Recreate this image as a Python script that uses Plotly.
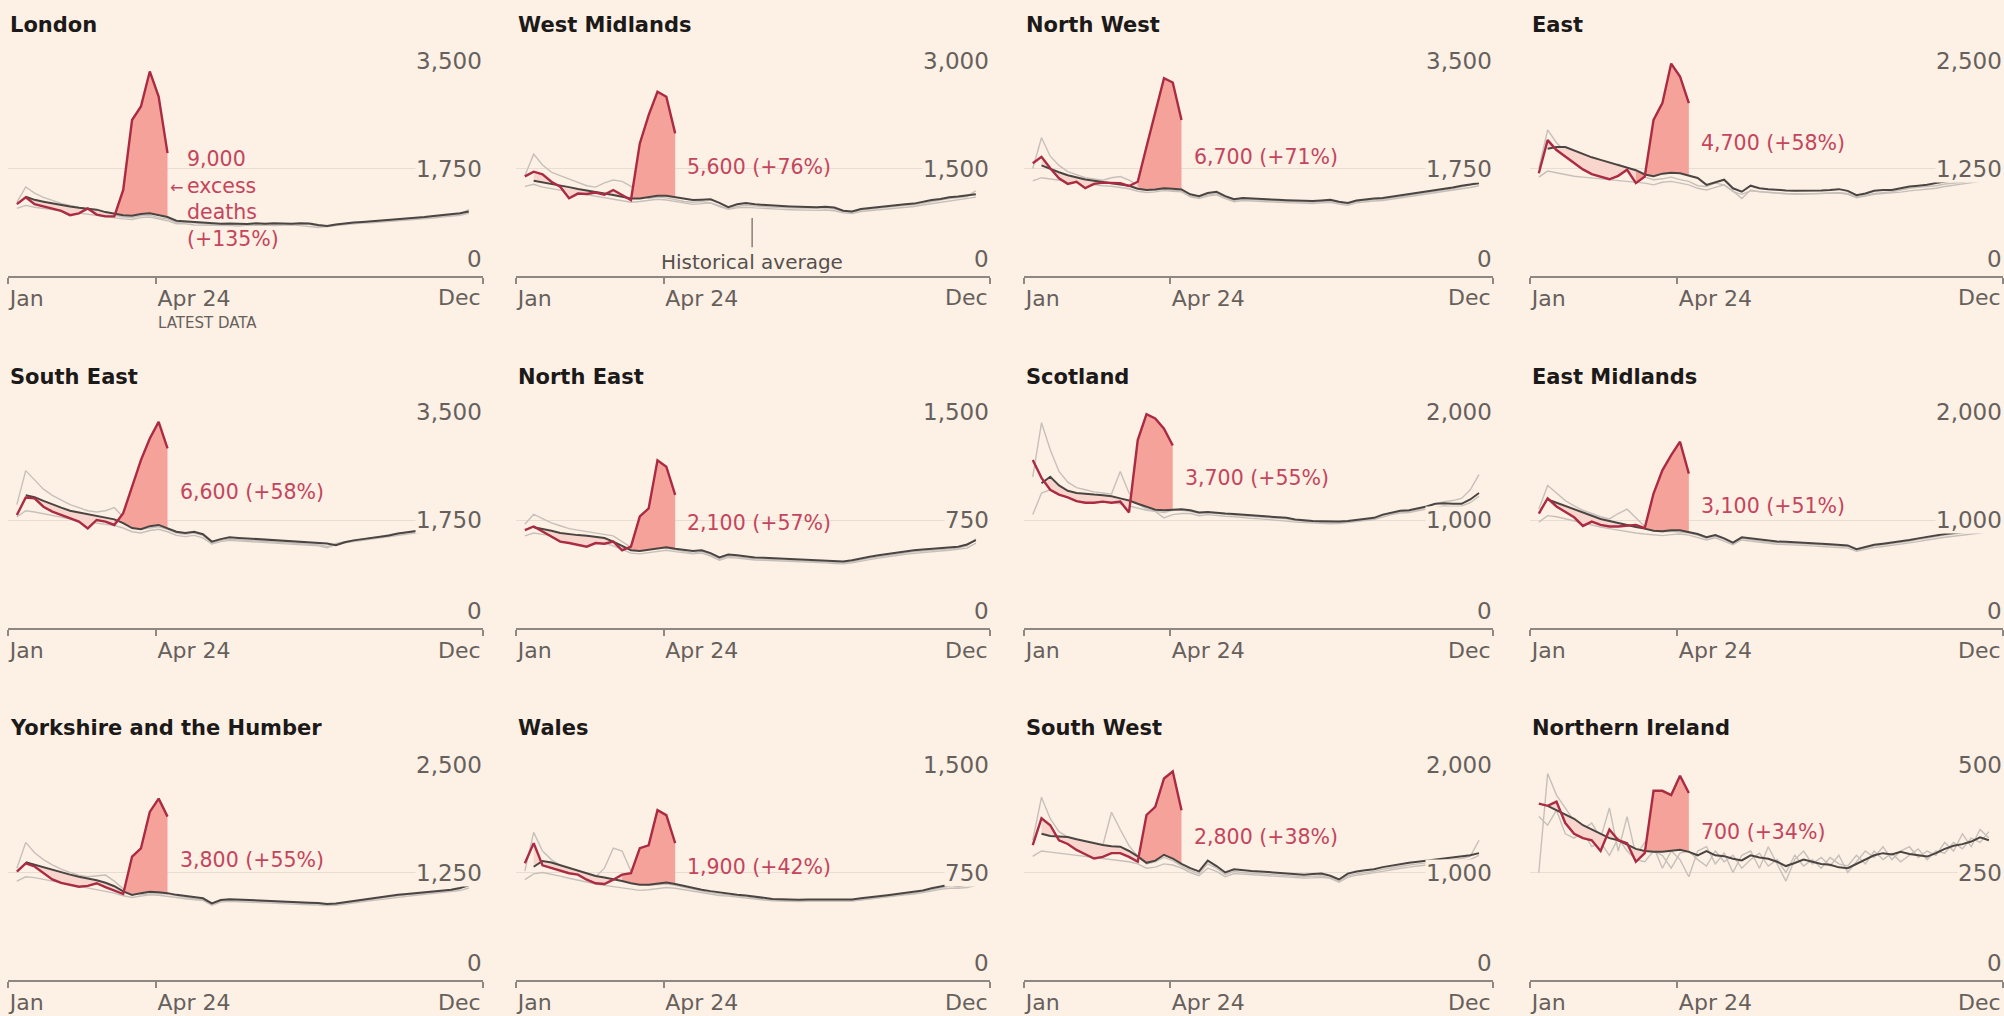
import plotly.graph_objects as go

# ---------------- data ----------------
REGIONS = ["London", "West Midlands", "North West", "East",
           "South East", "North East", "Scotland", "East Midlands",
           "Yorkshire and the Humber", "Wales", "South West", "Northern Ireland"]
Y_TOP = [3500, 3000, 3500, 2500, 3500, 1500, 2000, 2000, 2500, 1500, 2000, 500]
EXCESS_LABELS = ["9,000<br>excess<br>deaths<br>(+135%)", "5,600 (+76%)", "6,700 (+71%)", "4,700 (+58%)",
                 "6,600 (+58%)", "2,100 (+57%)", "3,700 (+55%)", "3,100 (+51%)",
                 "3,800 (+55%)", "1,900 (+42%)", "2,800 (+38%)", "700 (+34%)"]
SURGE_WEEK = [12, 13, 13, 12, 12, 12, 12, 13, 13, 12, 13, 13]
X_TICK_LABELS = ["Jan", "Apr 24", "Dec"]
WEEKS = list(range(1, 53))
AVG_WEEKS = list(range(2, 53))

# 2020 weekly deaths (red)
RED_LONDON = [1170, 1280, 1170, 1130, 1090, 1060, 990, 1020, 1100, 1000, 970, 970, 1400, 2540, 2760, 3330, 2920, 2000]
RED_WMID = [1390, 1455, 1420, 1315, 1245, 1085, 1150, 1145, 1165, 1135, 1200, 1130, 1060, 1850, 2245, 2570, 2500, 1990]
RED_NW = [1835, 1940, 1755, 1590, 1500, 1535, 1430, 1500, 1520, 1520, 1510, 1465, 1535, 2105, 2650, 3220, 3150, 2540]
RED_EAST = [1195, 1580, 1465, 1390, 1310, 1240, 1185, 1155, 1125, 1165, 1235, 1080, 1155, 1815, 2010, 2470, 2320, 2010]
RED_SE = [1830, 2115, 2100, 1965, 1885, 1830, 1775, 1725, 1615, 1750, 1725, 1670, 1860, 2290, 2720, 3070, 3340, 2910]
RED_NE = [680, 705, 670, 635, 600, 590, 575, 565, 590, 585, 600, 540, 565, 775, 830, 1165, 1120, 925]
RED_SCOT = [1555, 1390, 1280, 1235, 1210, 1175, 1160, 1160, 1170, 1160, 1170, 1070, 1740, 1980, 1940, 1845, 1690]
RED_EMID = [1060, 1200, 1125, 1075, 1025, 945, 985, 955, 940, 940, 945, 955, 925, 1245, 1460, 1600, 1725, 1430]
RED_YORK = [1260, 1355, 1320, 1240, 1170, 1130, 1105, 1085, 1095, 1125, 1080, 1040, 1000, 1435, 1530, 1955, 2110, 1900]
RED_WALES = [815, 955, 800, 780, 765, 745, 735, 700, 675, 670, 700, 735, 745, 920, 940, 1185, 1150, 955]
RED_SW = [1255, 1505, 1440, 1300, 1265, 1210, 1170, 1130, 1145, 1180, 1180, 1145, 1100, 1535, 1610, 1875, 1940, 1580]
RED_NI = [410, 405, 415, 365, 340, 330, 325, 300, 350, 325, 318, 275, 295, 440, 440, 430, 475, 435]

# Historical average (weeks 2-52)
AVG_LONDON = [1290, 1240, 1210, 1180, 1150, 1130, 1110, 1100, 1080, 1040, 1010, 990, 980, 1010, 1020, 990, 960, 900, 890, 880,
              860, 860, 850, 855, 850, 845, 860, 850, 860, 855, 850, 860, 855, 830, 815, 840, 860, 870, 880, 890,
              900, 910, 920, 930, 950, 960, 975, 990, 1000, 1020, 1050]
AVG_WMID = [1330, 1310, 1290, 1265, 1240, 1215, 1190, 1170, 1150, 1130, 1110, 1080, 1080, 1100, 1120, 1120, 1100, 1080, 1060, 1065,
            1070, 1020, 960, 1000, 1020, 1000, 990, 985, 975, 970, 965, 960, 960, 965, 955, 910, 900, 935, 950, 965,
            980, 990, 1000, 1010, 1040, 1060, 1075, 1100, 1110, 1120, 1140]
AVG_NW = [1800, 1740, 1690, 1640, 1600, 1570, 1550, 1530, 1520, 1500, 1470, 1420, 1400, 1410, 1430, 1420, 1410, 1330, 1300, 1350,
          1370, 1300, 1250, 1270, 1260, 1250, 1245, 1240, 1235, 1230, 1225, 1220, 1230, 1240, 1210, 1190, 1230, 1250, 1260, 1270,
          1290, 1310, 1330, 1350, 1370, 1390, 1410, 1440, 1470, 1490, 1510]
AVG_EAST = [1480, 1500, 1500, 1460, 1420, 1380, 1350, 1320, 1290, 1260, 1230, 1180, 1160, 1190, 1200, 1195, 1170, 1140, 1060, 1090,
            1120, 1020, 980, 1050, 1020, 1010, 1000, 995, 990, 990, 995, 995, 1000, 1010, 990, 940, 960, 990, 1000, 1000,
            1020, 1040, 1050, 1060, 1080, 1100, 1110, 1120, 1140, 1160, 1190]
AVG_SE = [2150, 2120, 2060, 2000, 1950, 1900, 1870, 1840, 1810, 1790, 1760, 1700, 1620, 1600, 1650, 1670, 1620, 1560, 1540, 1560,
          1520, 1400, 1440, 1470, 1460, 1450, 1440, 1430, 1420, 1410, 1400, 1390, 1385, 1380, 1370, 1340, 1390, 1420, 1440, 1450,
          1470, 1500, 1530, 1550, 1560, 1580, 1600, 1620, 1650, 1680, 1720]
AVG_NE = [700, 690, 675, 660, 650, 645, 640, 635, 625, 600, 570, 540, 535, 545, 555, 560, 550, 540, 535, 540,
          520, 490, 510, 505, 495, 490, 488, 485, 482, 480, 478, 476, 474, 472, 465, 462, 470, 485, 495, 505,
          515, 525, 535, 540, 545, 550, 555, 560, 565, 580, 610]
AVG_SCOT = [1340, 1400, 1320, 1270, 1250, 1240, 1235, 1230, 1220, 1200, 1180, 1150, 1120, 1095, 1090, 1095, 1100, 1090, 1070, 1075,
            1065, 1060, 1055, 1050, 1045, 1040, 1035, 1030, 1020, 1005, 995, 990, 988, 985, 985, 990, 1000, 1010, 1020, 1050,
            1070, 1085, 1090, 1105, 1125, 1150, 1155, 1150, 1150, 1190, 1250]
AVG_EMID = [1190, 1160, 1130, 1100, 1070, 1040, 1010, 990, 970, 950, 935, 920, 900, 895, 905, 905, 890, 870, 840, 860,
            830, 790, 840, 830, 815, 805, 800, 798, 795, 790, 785, 780, 775, 770, 765, 730, 750, 770, 780, 790,
            800, 815, 830, 845, 860, 870, 880, 890, 900, 910, 930]
AVG_YORK = [1370, 1340, 1310, 1280, 1250, 1225, 1200, 1180, 1160, 1130, 1090, 1030, 990, 1010, 1025, 1020, 1010, 990, 975, 960,
            950, 890, 930, 940, 935, 930, 925, 915, 910, 905, 905, 900, 898, 895, 885, 890, 905, 920, 935, 950,
            960, 975, 990, 1000, 1010, 1020, 1030, 1040, 1050, 1070, 1100]
AVG_WALES = [790, 830, 820, 800, 780, 760, 740, 725, 715, 705, 690, 675, 665, 665, 675, 680, 670, 655, 640, 630,
             620, 610, 605, 595, 590, 580, 570, 565, 563, 560, 560, 562, 562, 560, 558, 560, 562, 570, 580, 585,
             592, 600, 610, 616, 625, 640, 655, 665, 660, 665, 670]
AVG_SW = [1360, 1340, 1335, 1330, 1310, 1290, 1270, 1255, 1245, 1240, 1200, 1150, 1090, 1110, 1165, 1130, 1080, 1040, 1010, 1110,
          1060, 1000, 1030, 1020, 1015, 1010, 1005, 1000, 990, 985, 980, 985, 990, 970, 935, 990, 1010, 1020, 1030, 1050,
          1065, 1080, 1090, 1100, 1110, 1120, 1130, 1140, 1150, 1160, 1180]
AVG_NI = [405, 395, 385, 375, 360, 350, 340, 330, 325, 315, 305, 300, 298, 298, 300, 303, 298, 290, 300, 290,
          288, 282, 278, 290, 285, 282, 275, 265, 272, 280, 275, 270, 268, 262, 260, 270, 280, 290, 295, 292,
          298, 293, 290, 287, 295, 305, 312, 316, 322, 332, 325]

# Two individual historical years (weeks 1-52)
HA_LONDON = [1200, 1450, 1350, 1280, 1230, 1180, 1150, 1120, 1090, 1060, 1020, 990, 960, 950, 980, 990, 950, 930, 870, 880,
             860, 850, 840, 850, 830, 840, 830, 850, 840, 845, 840, 830, 850, 840, 810, 800, 830, 850, 860, 870,
             880, 890, 900, 905, 920, 935, 950, 960, 980, 990, 1010, 1080]
HB_LONDON = [1100, 1150, 1120, 1100, 1080, 1060, 1040, 1030, 1010, 990, 960, 940, 930, 920, 950, 960, 930, 900, 850, 850,
             830, 830, 820, 825, 820, 815, 830, 825, 830, 820, 830, 835, 820, 800, 790, 810, 825, 835, 850, 860,
             865, 875, 885, 895, 910, 920, 935, 945, 960, 975, 990, 1020]
HA_WMID = [1400, 1700, 1550, 1450, 1400, 1350, 1300, 1260, 1240, 1300, 1340, 1320, 1250, 1150, 1080, 1100, 1090, 1060, 1040, 1030,
           1040, 1020, 980, 940, 970, 990, 975, 965, 960, 955, 950, 945, 940, 945, 950, 935, 900, 890, 920, 935,
           950, 960, 975, 985, 995, 1020, 1040, 1060, 1080, 1090, 1110, 1190]
HB_WMID = [1250, 1280, 1240, 1220, 1200, 1180, 1150, 1130, 1110, 1090, 1070, 1050, 1030, 1040, 1060, 1070, 1060, 1040, 1020, 1000,
           1010, 1020, 970, 930, 950, 960, 950, 940, 935, 930, 925, 920, 918, 915, 920, 910, 880, 870, 900, 910,
           925, 935, 950, 960, 970, 990, 1010, 1030, 1050, 1060, 1080, 1100]
HA_NW = [1750, 2250, 1950, 1800, 1700, 1650, 1600, 1580, 1560, 1600, 1620, 1560, 1480, 1420, 1400, 1410, 1390, 1380, 1300, 1280,
         1320, 1340, 1280, 1230, 1250, 1240, 1230, 1225, 1220, 1215, 1210, 1205, 1200, 1210, 1220, 1190, 1170, 1210, 1230, 1240,
         1250, 1270, 1290, 1310, 1330, 1350, 1370, 1390, 1420, 1450, 1480, 1560]
HB_NW = [1550, 1600, 1580, 1560, 1540, 1520, 1500, 1480, 1470, 1460, 1440, 1420, 1380, 1360, 1370, 1390, 1380, 1370, 1290, 1260,
         1300, 1320, 1260, 1210, 1230, 1220, 1210, 1205, 1200, 1195, 1190, 1185, 1180, 1190, 1200, 1170, 1150, 1190, 1210, 1220,
         1230, 1250, 1270, 1290, 1310, 1330, 1350, 1370, 1400, 1420, 1440, 1470]
HA_EAST = [1250, 1700, 1550, 1450, 1380, 1320, 1280, 1250, 1220, 1300, 1260, 1200, 1150, 1120, 1130, 1150, 1120, 1100, 1050, 1040,
           1080, 1060, 990, 900, 1000, 980, 970, 960, 955, 950, 950, 955, 960, 965, 970, 960, 920, 940, 960, 970,
           980, 1000, 1020, 1030, 1040, 1050, 1070, 1080, 1090, 1110, 1130, 1180]
HB_EAST = [1150, 1220, 1200, 1180, 1160, 1150, 1140, 1130, 1120, 1110, 1100, 1090, 1080, 1060, 1090, 1100, 1080, 1060, 1020, 1000,
           1030, 1060, 980, 950, 990, 980, 970, 965, 960, 955, 955, 958, 960, 962, 965, 950, 910, 930, 950, 960,
           965, 975, 990, 1000, 1010, 1020, 1040, 1055, 1065, 1080, 1100, 1130]
HA_SE = [2000, 2550, 2400, 2250, 2150, 2080, 2000, 1950, 1900, 1880, 1900, 1950, 1800, 1700, 1600, 1620, 1640, 1600, 1540, 1520,
         1540, 1500, 1380, 1420, 1440, 1430, 1420, 1410, 1400, 1390, 1380, 1370, 1365, 1360, 1350, 1320, 1370, 1400, 1420, 1430,
         1450, 1480, 1510, 1530, 1540, 1560, 1580, 1600, 1620, 1640, 1680, 1780]
HB_SE = [1800, 1900, 1880, 1850, 1820, 1790, 1760, 1740, 1720, 1700, 1680, 1660, 1620, 1560, 1540, 1580, 1600, 1560, 1500, 1480,
         1500, 1460, 1360, 1400, 1420, 1410, 1400, 1390, 1380, 1370, 1360, 1350, 1345, 1340, 1330, 1300, 1350, 1380, 1400, 1410,
         1430, 1460, 1480, 1500, 1510, 1530, 1550, 1570, 1590, 1610, 1640, 1690]
HA_NE = [720, 790, 760, 730, 710, 690, 680, 670, 660, 650, 640, 600, 560, 540, 550, 560, 555, 545, 530, 520,
         530, 510, 480, 500, 495, 485, 480, 478, 475, 472, 470, 468, 466, 464, 462, 455, 452, 460, 475, 485,
         495, 505, 515, 525, 530, 535, 540, 545, 550, 555, 570, 620]
HB_NE = [640, 660, 650, 640, 630, 620, 615, 610, 600, 590, 570, 545, 520, 515, 525, 535, 540, 530, 520, 515,
         520, 500, 470, 490, 485, 478, 472, 470, 468, 465, 462, 460, 458, 455, 452, 448, 445, 452, 465, 475,
         485, 495, 505, 512, 518, 525, 530, 535, 540, 545, 555, 590]
HA_SCOT = [1400, 1900, 1650, 1450, 1350, 1300, 1280, 1260, 1250, 1240, 1450, 1250, 1150, 1100, 1080, 1070, 1090, 1090, 1080, 1060,
           1070, 1060, 1050, 1045, 1040, 1035, 1030, 1025, 1020, 1010, 995, 985, 980, 978, 975, 975, 980, 990, 1000, 1010,
           1040, 1060, 1075, 1080, 1095, 1120, 1150, 1170, 1180, 1200, 1280, 1420]
HB_SCOT = [1050, 1250, 1280, 1260, 1220, 1200, 1190, 1180, 1170, 1160, 1150, 1130, 1110, 1090, 1080, 1020, 1050, 1060, 1060, 1040,
           1050, 1040, 1035, 1030, 1020, 1015, 1010, 1005, 1000, 990, 980, 975, 970, 968, 965, 968, 975, 985, 995, 1005,
           1030, 1050, 1065, 1070, 1085, 1100, 1120, 1130, 1125, 1130, 1160, 1220]
HA_EMID = [1100, 1320, 1250, 1180, 1130, 1090, 1060, 1030, 1010, 1060, 1100, 1020, 940, 900, 890, 895, 890, 880, 860, 830,
           850, 820, 780, 830, 820, 805, 795, 790, 788, 785, 780, 775, 770, 765, 760, 755, 720, 740, 760, 770,
           780, 790, 805, 820, 835, 850, 860, 870, 880, 890, 900, 950]
HB_EMID = [980, 1040, 1030, 1010, 990, 970, 950, 935, 920, 905, 890, 880, 870, 860, 855, 865, 870, 860, 840, 815,
           835, 805, 770, 815, 805, 790, 780, 775, 772, 770, 765, 760, 755, 750, 745, 740, 710, 730, 745, 755,
           765, 775, 790, 800, 815, 830, 840, 850, 860, 870, 880, 900]
HA_YORK = [1300, 1600, 1480, 1400, 1340, 1290, 1250, 1220, 1200, 1210, 1220, 1150, 1060, 1000, 990, 1000, 1005, 1000, 980, 960,
           945, 935, 880, 920, 930, 925, 920, 915, 905, 900, 895, 895, 890, 888, 885, 875, 880, 895, 910, 925,
           940, 950, 965, 980, 990, 1000, 1010, 1020, 1030, 1040, 1060, 1130]
HB_YORK = [1150, 1200, 1190, 1170, 1150, 1130, 1110, 1090, 1070, 1050, 1030, 1010, 980, 960, 975, 990, 985, 975, 960, 945,
           935, 925, 870, 905, 915, 910, 905, 900, 892, 888, 884, 882, 878, 875, 872, 865, 870, 885, 900, 912,
           925, 935, 950, 962, 972, 985, 995, 1005, 1015, 1025, 1040, 1070]
HA_WALES = [760, 1030, 900, 840, 800, 770, 750, 730, 720, 780, 920, 900, 760, 680, 660, 665, 670, 660, 645, 630,
            620, 610, 600, 595, 585, 580, 570, 562, 558, 555, 552, 550, 552, 552, 550, 548, 550, 552, 560, 570,
            575, 582, 590, 600, 606, 615, 630, 645, 655, 650, 660, 700]
HB_WALES = [700, 740, 750, 740, 725, 710, 695, 680, 670, 660, 650, 640, 630, 625, 630, 640, 645, 640, 630, 615,
            605, 598, 590, 585, 578, 572, 565, 558, 552, 550, 548, 548, 550, 550, 548, 545, 548, 550, 558, 566,
            572, 578, 586, 595, 600, 608, 620, 632, 640, 640, 645, 660]
HA_SW = [1300, 1700, 1500, 1380, 1330, 1300, 1280, 1260, 1250, 1560, 1400, 1250, 1150, 1080, 1100, 1140, 1110, 1060, 1020, 990,
         1080, 1040, 980, 1010, 1000, 995, 990, 985, 980, 970, 965, 960, 965, 970, 950, 920, 970, 990, 1000, 1010,
         1030, 1045, 1060, 1070, 1080, 1090, 1100, 1110, 1120, 1130, 1150, 1300]
HB_SW = [1150, 1200, 1190, 1180, 1170, 1160, 1150, 1140, 1130, 1120, 1110, 1100, 1080, 1040, 1050, 1080, 1070, 1040, 1000, 970,
         1040, 1010, 960, 990, 985, 980, 975, 970, 965, 958, 952, 948, 950, 955, 945, 910, 955, 975, 985, 995,
         1010, 1025, 1040, 1050, 1060, 1070, 1080, 1090, 1100, 1110, 1120, 1160]
HA_NI = [250, 480, 430, 400, 370, 350, 365, 330, 400, 300, 380, 290, 320, 310, 260, 300, 280, 240, 300, 310,
         270, 295, 250, 290, 300, 260, 310, 270, 230, 280, 300, 270, 285, 265, 290, 250, 275, 300, 285, 310,
         280, 300, 310, 285, 300, 290, 320, 300, 340, 310, 350, 330]
HB_NI = [380, 360, 395, 340, 330, 345, 310, 320, 290, 330, 300, 280, 275, 300, 290, 260, 295, 300, 280, 265,
         300, 275, 290, 260, 280, 295, 265, 280, 250, 290, 265, 280, 260, 285, 270, 265, 290, 270, 300, 280,
         295, 275, 290, 305, 280, 300, 295, 320, 305, 330, 320, 345]

REDS = [RED_LONDON, RED_WMID, RED_NW, RED_EAST, RED_SE, RED_NE, RED_SCOT, RED_EMID, RED_YORK, RED_WALES, RED_SW, RED_NI]
AVGS = [AVG_LONDON, AVG_WMID, AVG_NW, AVG_EAST, AVG_SE, AVG_NE, AVG_SCOT, AVG_EMID, AVG_YORK, AVG_WALES, AVG_SW, AVG_NI]
HIST_A = [HA_LONDON, HA_WMID, HA_NW, HA_EAST, HA_SE, HA_NE, HA_SCOT, HA_EMID, HA_YORK, HA_WALES, HA_SW, HA_NI]
HIST_B = [HB_LONDON, HB_WMID, HB_NW, HB_EAST, HB_SE, HB_NE, HB_SCOT, HB_EMID, HB_YORK, HB_WALES, HB_SW, HB_NI]

# ---------------- layout / style ----------------
W, H = 2004, 1016
BG = "#fdf0e5"
FONT = "DejaVu Sans"
GREY_TXT = "#66605c"
RED_C = "#aa2b42"
RED_TXT = "#c4455c"
FILL_STRONG = "#f5a29a"
FILL_LIGHT = "#f8d6ce"
AVG_C = "#4a4542"
HIST_C = "#c7c0ba"
GRID_C = "#e8ddd3"
AXIS_C = "#8f8781"

COL_PX = [(8, 483), (516, 990), (1024, 1493), (1530, 2003)]
ROW_PX = [(61, 276), (412, 628), (765, 980)]
TITLE_PX = [25, 377, 728]
X_MAX = 53.6
APR24_POS = 16.7
LABEL_POS = [(20.0, 1253), (19.1, 1521), (19.2, 1937), (19.1, 1547),
             (19.2, 2204), (19.1, 729), (18.2, 1389), (19.1, 1130),
             (19.2, 1395), (19.1, 788), (19.2, 1330), (19.2, 344)]

fig = go.Figure()
annotations = []
shapes = []
layout_axes = {}

for i, name in enumerate(REGIONS):
    r, c = divmod(i, 4)
    n = "" if i == 0 else str(i + 1)
    xa, ya = "x" + n, "y" + n
    px0, px1 = COL_PX[c]
    py0, py1 = ROW_PX[r]
    top = Y_TOP[i]
    red = REDS[i]
    avg = AVGS[i]
    S = SURGE_WEEK[i]
    N = len(red)
    common = dict(xaxis=xa, yaxis=ya, hoverinfo="skip", showlegend=False, mode="lines")

    for hist in (HIST_A[i], HIST_B[i]):
        fig.add_trace(go.Scatter(x=WEEKS, y=hist, line=dict(color=HIST_C, width=1.4), **common))

    for wk, fc in ((list(range(2, S + 1)), FILL_LIGHT), (list(range(S, N + 1)), FILL_STRONG)):
        fig.add_trace(go.Scatter(x=wk, y=[avg[w - 2] for w in wk], line=dict(width=0, color=fc), **common))
        fig.add_trace(go.Scatter(x=wk, y=[red[w - 1] for w in wk], line=dict(width=0, color=fc),
                                 fill="tonexty", fillcolor=fc, **common))

    fig.add_trace(go.Scatter(x=AVG_WEEKS, y=avg, line=dict(color=AVG_C, width=2), **common))
    fig.add_trace(go.Scatter(x=WEEKS[:N], y=red, line=dict(color=RED_C, width=2.4), **common))

    layout_axes["xaxis" + n] = dict(
        domain=[px0 / W, px1 / W], range=[0, X_MAX], anchor=ya,
        showline=True, linecolor=AXIS_C, linewidth=1.5,
        ticks="outside", ticklen=6, tickwidth=1.5, tickcolor=AXIS_C,
        tickvals=[0.02, APR24_POS, X_MAX - 0.02], ticktext=[X_TICK_LABELS[0], X_TICK_LABELS[1], ""],
        ticklabelposition="outside right", ticklabelstandoff=2,
        tickfont=dict(family=FONT, size=22, color=GREY_TXT),
        showgrid=False, zeroline=False, fixedrange=True)
    layout_axes["yaxis" + n] = dict(
        domain=[1 - py1 / H, 1 - py0 / H], range=[0, top], anchor=xa,
        tickvals=[top / 2, top], showticklabels=False, ticks="",
        showgrid=True, gridcolor=GRID_C, gridwidth=1, zeroline=False, fixedrange=True)

    # title
    annotations.append(dict(xref=f"{xa} domain", x=0, xanchor="left", yref="paper", y=1 - TITLE_PX[r] / H,
                            yanchor="middle", text=f"<b>{name}</b>", showarrow=False,
                            font=dict(family=FONT, size=21, color="#1c1a19")))
    # y labels
    for v in (top, top // 2, 0):
        annotations.append(dict(xref=f"{xa} domain", x=1, xanchor="right", yref=ya, y=v,
                                yanchor="bottom" if v == 0 else "middle", yshift=3 if v == 0 else 0,
                                text=f"{v:,}", showarrow=False, bgcolor=BG, borderpad=0,
                                font=dict(family=FONT, size=23, color=GREY_TXT)))
    # Dec label
    annotations.append(dict(xref=f"{xa} domain", x=1, xanchor="right", yref="paper", y=1 - (py1 + 22) / H,
                            yanchor="middle", text=X_TICK_LABELS[2], showarrow=False,
                            font=dict(family=FONT, size=22, color=GREY_TXT)))
    # excess label
    lx, ly = LABEL_POS[i]
    annotations.append(dict(xref=xa, x=lx, xanchor="left", yref=ya, y=ly, yanchor="middle",
                            text=EXCESS_LABELS[i], align="left", showarrow=False,
                            font=dict(family=FONT, size=20.5, color=RED_TXT)))

# London extras
annotations.append(dict(xref="x", x=20.0, xanchor="right", yref="y", y=1433, yanchor="middle",
                        text="←", showarrow=False, font=dict(family=FONT, size=16, color=RED_TXT)))
annotations.append(dict(xref="x", x=APR24_POS, xanchor="left", yref="paper", y=1 - 323 / H, yanchor="middle",
                        text="LATEST DATA", showarrow=False, font=dict(family=FONT, size=15, color=GREY_TXT)))
# West Midlands: historical average callout
shapes.append(dict(type="line", xref="x2", yref="y2", x0=26.7, x1=26.7, y0=810, y1=400,
                   line=dict(color="#6b6460", width=1.2)))
annotations.append(dict(xref="x2", x=26.7, xanchor="center", yref="y2", y=195, yanchor="middle",
                        text="Historical average", showarrow=False,
                        font=dict(family=FONT, size=20, color="#55504c")))

fig.update_layout(width=W, height=H, margin=dict(l=0, r=0, t=0, b=0),
                  paper_bgcolor=BG, plot_bgcolor=BG, showlegend=False,
                  annotations=annotations, shapes=shapes, **layout_axes)

fig.write_html("out.html", config={"displayModeBar": False},
               post_script="document.body.style.margin='0';document.body.style.overflow='hidden';")
